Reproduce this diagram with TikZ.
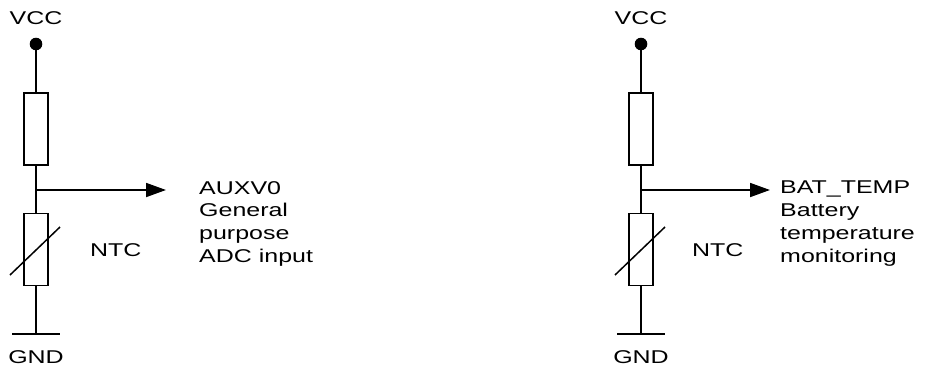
\documentclass[tikz,border=0pt]{standalone}
\usepackage{fontspec}
\usetikzlibrary{arrows.meta}
\newfontfamily\sig{Liberation Sans}[FakeStretch=1.35]
\tikzset{res/.style={draw, line width=1.5pt, minimum width=24pt, minimum height=72pt, inner sep=0pt}}
\tikzset{lbl/.style={font=\sig\fontsize{18.5}{22.7}\selectfont, inner sep=0pt, align=left}}
\tikzset{wire/.style={line width=1.8pt}}
\begin{document}
\begin{tikzpicture}[x=1pt, y=-1pt]
\path [use as bounding box] (0,0) rectangle (927,367);
% left divider
\node [lbl] (vccL) at (36,18) {VCC};
\fill (36,44) circle (6.3) coordinate (dotL);
\node [res] (rtopL) at (36,129) {};
\coordinate (jL) at (36,190);
\node [res] (ntcL) at (36,249.5) {};
\coordinate (gndL) at (36,334);
\node [lbl] (gndtL) at (36,357) {GND};
\node [lbl, anchor=west] (ntctL) at (90,250) {NTC};
\node [lbl, anchor=north west] (sigL) at (199,181) {AUXV0\\General\\purpose\\ADC input};
\draw [wire] (dotL) -- (rtopL.north);
\draw [wire] (rtopL.south) -- (ntcL.north);
\draw [wire] (ntcL.south) -- (gndL);
\draw [wire] (gndL) ++(-24,0) -- ++(48,0);
\draw [wire, -{Triangle[length=20pt, width=14pt]}] (jL) -- (166,190) coordinate (outL);
\draw [line width=1.5pt] (ntcL.center) ++(-26,25.5) -- ++(50,-48);
% right divider
\node [lbl] (vccR) at (641,18) {VCC};
\fill (641,44) circle (6.3) coordinate (dotR);
\node [res] (rtopR) at (641,129) {};
\coordinate (jR) at (641,190);
\node [res] (ntcR) at (641,249.5) {};
\coordinate (gndR) at (641,334);
\node [lbl] (gndtR) at (641,357) {GND};
\node [lbl, anchor=west] (ntctR) at (692,250) {NTC};
\node [lbl, anchor=north west] (sigR) at (780,181) {BAT\_TEMP\\Battery\\temperature\\monitoring};
\draw [wire] (dotR) -- (rtopR.north);
\draw [wire] (rtopR.south) -- (ntcR.north);
\draw [wire] (ntcR.south) -- (gndR);
\draw [wire] (gndR) ++(-24,0) -- ++(48,0);
\draw [wire, -{Triangle[length=20pt, width=14pt]}] (jR) -- (770,190) coordinate (outR);
\draw [line width=1.5pt] (ntcR.center) ++(-26,25.5) -- ++(50,-48);
\end{tikzpicture}
\end{document}
